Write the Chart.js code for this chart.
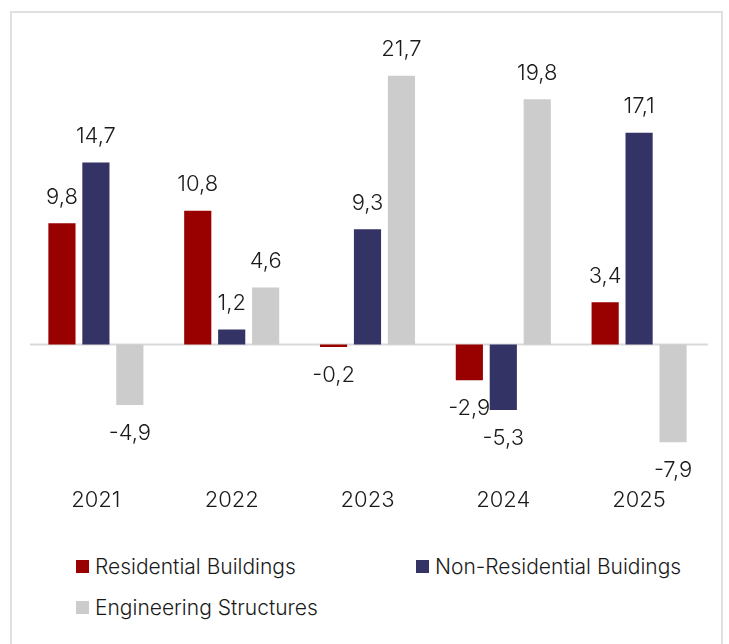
<!DOCTYPE html>
<html>
<head>
<meta charset="utf-8">
<script src="https://cdn.jsdelivr.net/npm/chart.js@4.4.1/dist/chart.umd.min.js"></script>
<style>
  html, body { margin: 0; padding: 0; background: #fff; }
  #wrap { position: relative; width: 729px; height: 644px; overflow: hidden; font-family: Inter, "Noto Sans", sans-serif; }
  #frame { position: absolute; left: 10px; top: 11px; width: 713px; height: 660px; border: 2px solid #e0e0e0; box-sizing: border-box; }
  #chart-box { position: absolute; left: 0; top: 0; width: 729px; height: 530px; }
  #legend { position: absolute; left: 76px; top: 553px; display: grid; grid-template-columns: 340px auto; row-gap: 15px; }
  .item { display: flex; align-items: center; font-size: 21px; font-weight: 300; color: #1a1a1a; height: 26px; }
  .item i { display: inline-block; width: 13px; height: 13px; margin-right: 6px; }
</style>
</head>
<body>
<div id="wrap">
  <div id="frame"></div>
  <div id="chart-box"><canvas id="growth-chart"></canvas></div>
  <div id="legend"></div>
</div>
<script>
  var years = ["2021", "2022", "2023", "2024", "2025"];
  var residential = [9.8, 10.8, -0.2, -2.9, 3.4];
  var nonResidential = [14.7, 1.2, 9.3, -5.3, 17.1];
  var engineering = [-4.9, 4.6, 21.7, 19.8, -7.9];

  var seriesNames = ["Residential Buildings", "Non-Residential Buidings", "Engineering Structures"];
  var seriesColors = ["#990000", "#333366", "#cccccc"];

  function fmt(v) {
    return v.toFixed(1).replace(".", ",");
  }

  // value labels above positive bars and below negative ones
  var valueLabels = {
    id: "valueLabels",
    afterDatasetsDraw: function (chart) {
      var ctx = chart.ctx;
      ctx.save();
      ctx.font = "300 22px Inter, 'Noto Sans', sans-serif";
      ctx.fillStyle = "#1a1a1a";
      ctx.textAlign = "center";
      ctx.textBaseline = "middle";
      chart.data.datasets.forEach(function (ds, i) {
        chart.getDatasetMeta(i).data.forEach(function (bar, j) {
          var v = ds.data[j];
          var y = v >= 0 ? bar.y - 26 : bar.y + 28;
          ctx.fillText(fmt(v), bar.x, y);
        });
      });
      ctx.restore();
    }
  };

  var zeroLine = {
    id: "zeroLine",
    beforeDatasetsDraw: function (chart) {
      var ctx = chart.ctx;
      var y = chart.scales.y.getPixelForValue(0);
      ctx.save();
      ctx.strokeStyle = "#d9d9d9";
      ctx.lineWidth = 2;
      ctx.beginPath();
      ctx.moveTo(chart.chartArea.left + 2, y);
      ctx.lineTo(chart.chartArea.right + 1, y);
      ctx.stroke();
      ctx.restore();
    }
  };

  var chart = new Chart(document.getElementById("growth-chart"), {
    type: "bar",
    data: {
      labels: years,
      datasets: [
        { label: seriesNames[0], data: residential, backgroundColor: seriesColors[0] },
        { label: seriesNames[1], data: nonResidential, backgroundColor: seriesColors[1] },
        { label: seriesNames[2], data: engineering, backgroundColor: seriesColors[2] }
      ]
    },
    options: {
      responsive: true,
      maintainAspectRatio: false,
      animation: false,
      categoryPercentage: 0.75,
      barPercentage: 0.8,
      layout: { padding: { left: 28, right: 22, top: 35, bottom: 9 } },
      scales: {
        x: {
          grid: { display: false, drawTicks: false },
          border: { display: false },
          ticks: {
            padding: 7,
            color: "#1a1a1a",
            font: { family: "Inter, 'Noto Sans', sans-serif", size: 22, weight: 300 }
          }
        },
        y: {
          display: false,
          min: -11,
          max: 25
        }
      },
      plugins: {
        legend: { display: false },
        tooltip: { enabled: false }
      }
    },
    plugins: [zeroLine, valueLabels]
  });

  var legend = document.getElementById("legend");
  chart.data.datasets.forEach(function (ds) {
    var item = document.createElement("div");
    item.className = "item";
    var box = document.createElement("i");
    box.style.background = ds.backgroundColor;
    item.appendChild(box);
    item.appendChild(document.createTextNode(ds.label));
    legend.appendChild(item);
  });
</script>
</body>
</html>
